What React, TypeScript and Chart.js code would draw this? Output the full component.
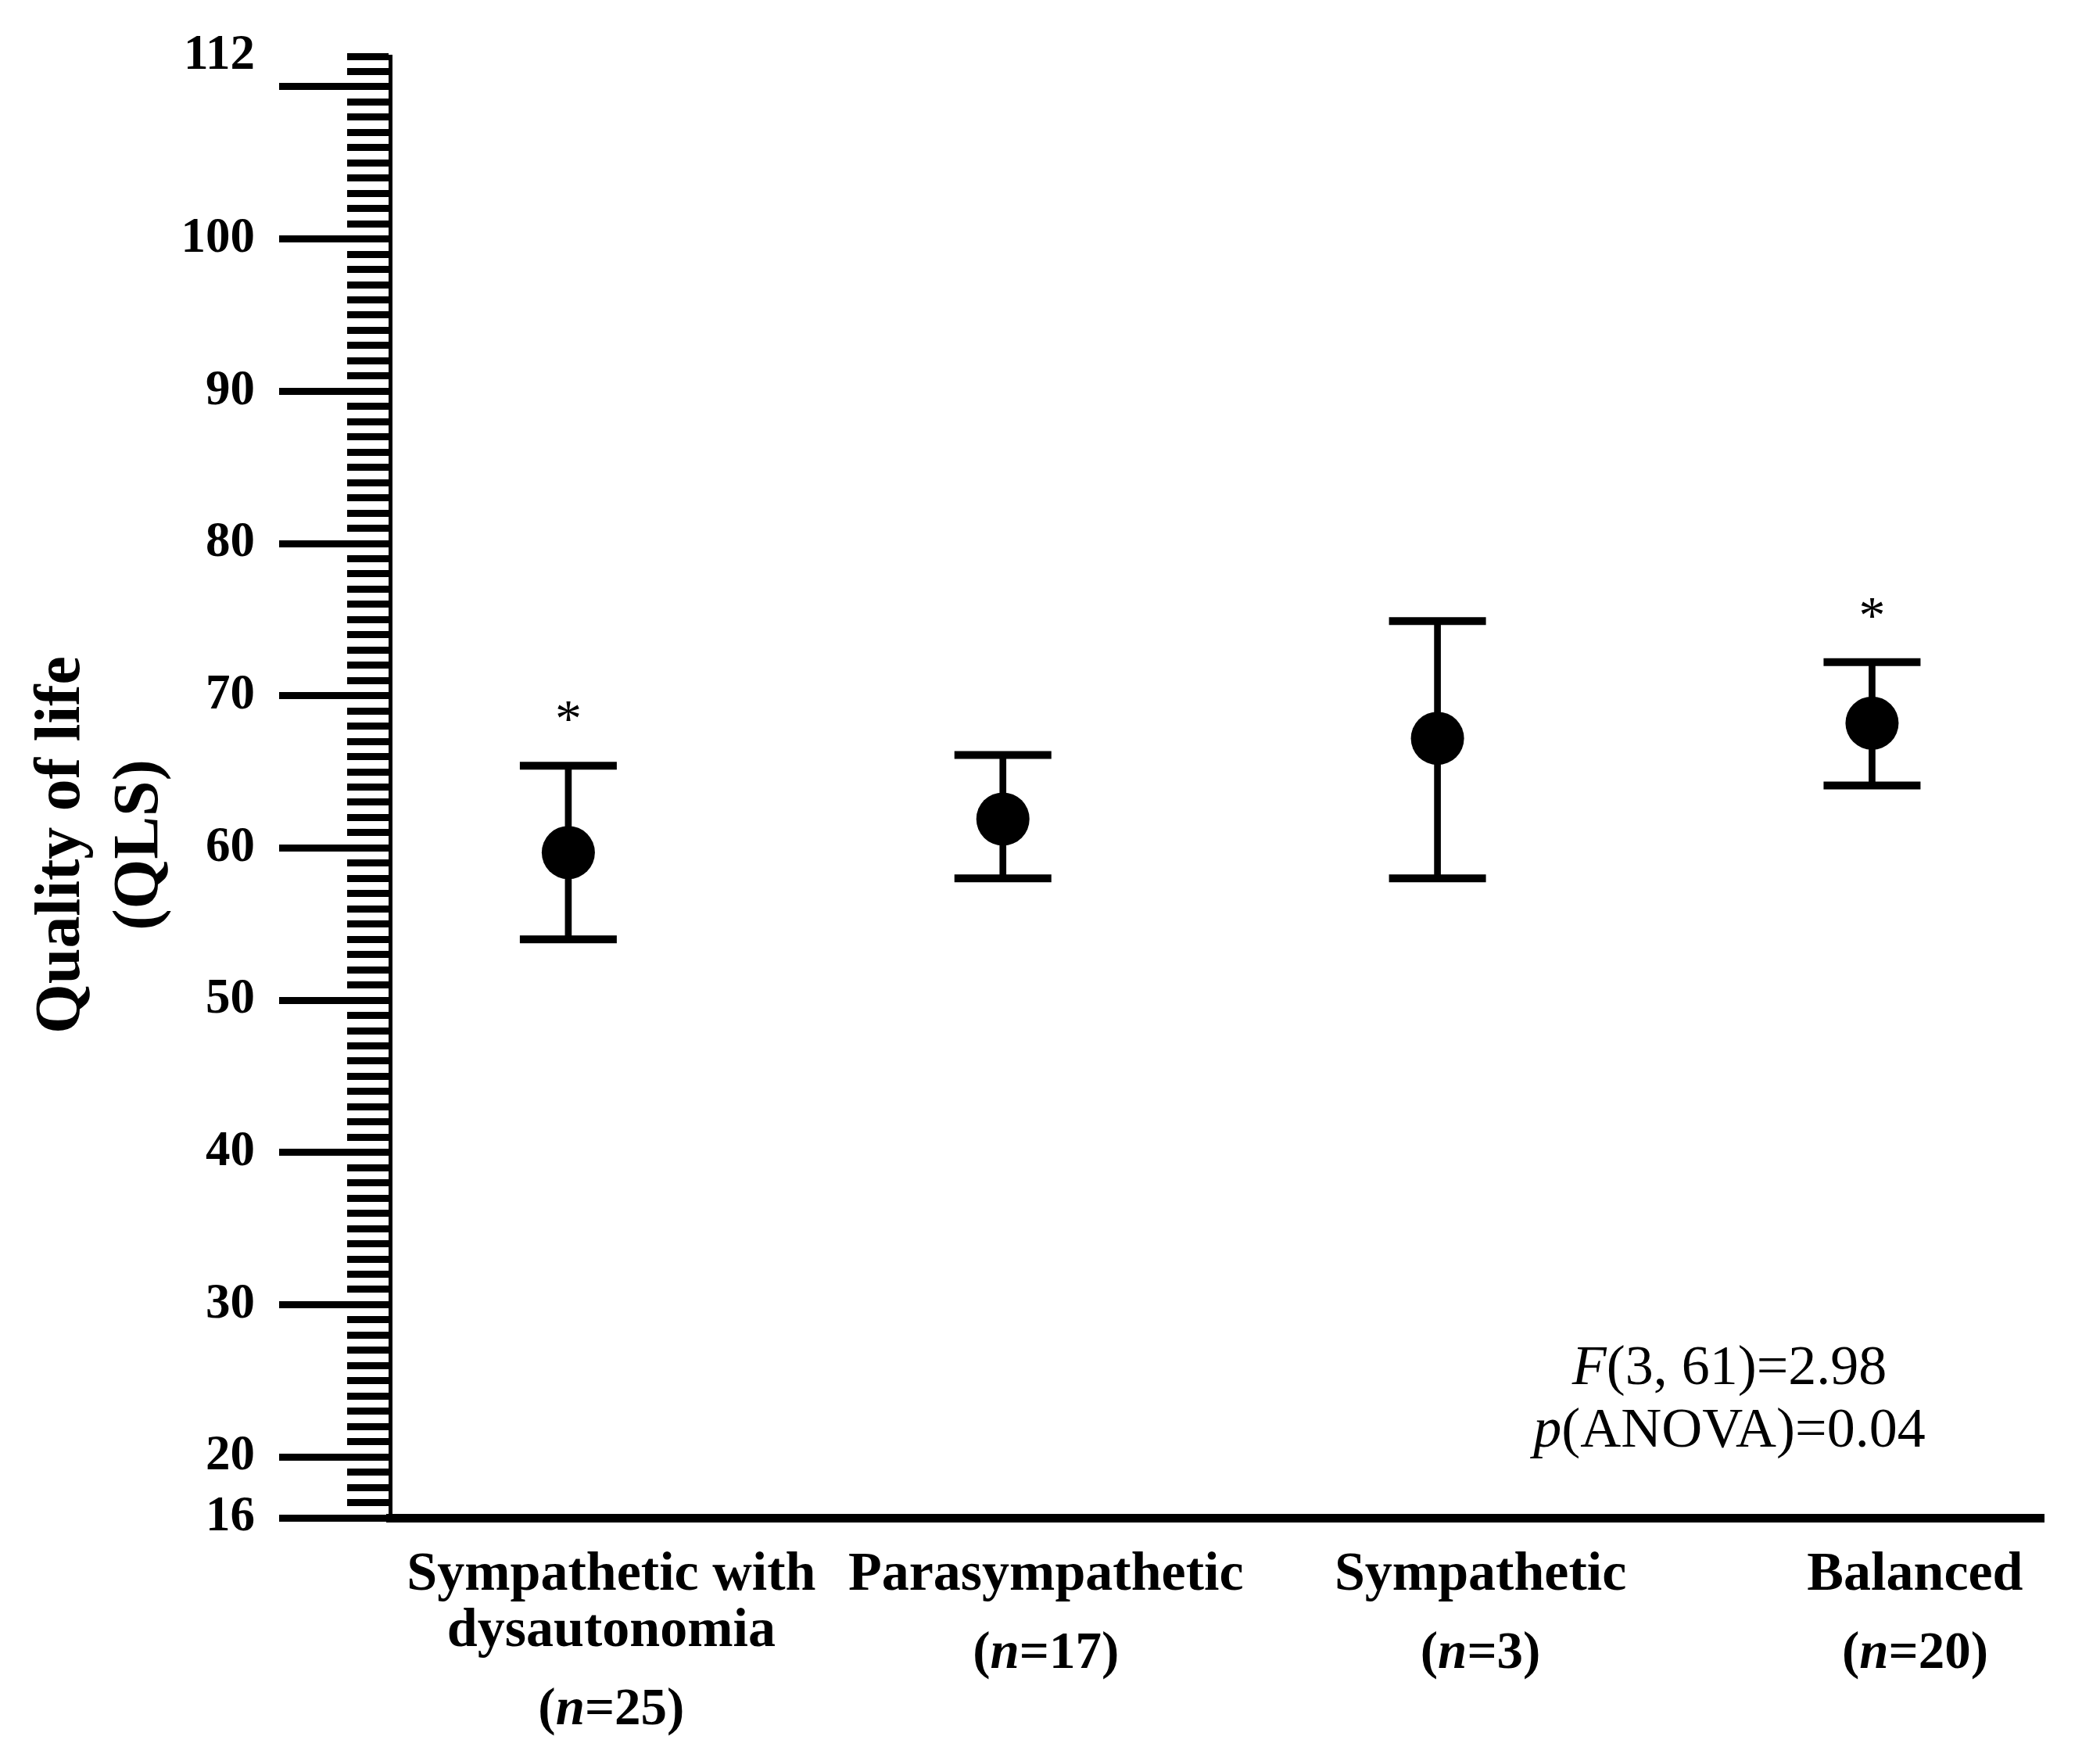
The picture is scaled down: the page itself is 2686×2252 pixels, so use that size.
import React, { useEffect, useRef } from 'react';
import { Chart, registerables } from 'chart.js';

Chart.register(...registerables);

// groups along the x axis (names may span two lines)
const groupNames: string[][] = [
  ['Sympathetic with', 'dysautonomia'],
  ['Parasympathetic'],
  ['Sympathetic'],
  ['Balanced'],
];
const groupSizes = [25, 17, 3, 20];

// quality of life: mean with lower / upper error bar ends
const means = [59.7, 61.9, 67.2, 68.2];
const upperBars = [65.4, 66.1, 74.9, 72.2];
const lowerBars = [54.0, 58.0, 58.0, 64.1];
const significant = [true, false, false, true];

// y axis
const yMin = 16;
const yMax = 112;
const yLabelValues = [16, 20, 30, 40, 50, 60, 70, 80, 90, 100, 112];
const yMajorLines = [16, 20, 30, 40, 50, 60, 70, 80, 90, 100, 110];
const yTitle = ['Quality of life', '(QLS)'];

// ANOVA result text (italic symbol + rest)
const fStat = ['F', '(3, 61)=2.98'];
const pStat = ['p', '(ANOVA)=0.04'];

const SERIF = "'Times New Roman', 'Liberation Serif', serif";
const LABEL_SHIFT = 55;
const X_PAD = 38;
const X_LINE = 72;

type Run = { text: string; font: string };

function drawRuns(ctx: CanvasRenderingContext2D, runs: Run[], cx: number, y: number) {
  let total = 0;
  runs.forEach((r) => {
    ctx.font = r.font;
    total += ctx.measureText(r.text).width;
  });
  let x = cx - total / 2;
  ctx.textAlign = 'left';
  runs.forEach((r) => {
    ctx.font = r.font;
    ctx.fillText(r.text, x, y);
    x += ctx.measureText(r.text).width;
  });
}

const figureText = {
  id: 'figureText',
  afterDraw(chart: any) {
    const { ctx, chartArea, scales } = chart;
    const xs = scales.x;
    const ys = scales.y;
    ctx.save();
    ctx.fillStyle = '#000';

    // y axis title, two rotated lines
    ctx.font = `bold 82px ${SERIF}`;
    ctx.textAlign = 'center';
    ctx.textBaseline = 'middle';
    const titleY = (chartArea.top + chartArea.bottom) / 2 + 74;
    yTitle.forEach((line, i) => {
      ctx.save();
      ctx.translate(80 + i * 100, titleY);
      ctx.rotate(-Math.PI / 2);
      ctx.fillText(line, 0, 0);
      ctx.restore();
    });

    // significance marks above the upper bars
    ctx.font = `68px ${SERIF}`;
    ctx.textBaseline = 'alphabetic';
    significant.forEach((s, i) => {
      if (!s) return;
      const px = xs.getPixelForValue(i + 1);
      const py = ys.getPixelForValue(upperBars[i] + 3.6);
      ctx.textAlign = 'center';
      ctx.fillText('*', px, py + 32);
    });

    // group sizes under the names
    ctx.textBaseline = 'middle';
    const bold = `bold 67px ${SERIF}`;
    const boldItalic = `italic bold 67px ${SERIF}`;
    groupSizes.forEach((n, i) => {
      const cx = xs.getPixelForValue(i + 1) + LABEL_SHIFT;
      const cy = xs.top + X_PAD + X_LINE / 2 + (groupNames[i].length - 1) * X_LINE + 101;
      drawRuns(ctx, [
        { text: '(', font: bold },
        { text: 'n', font: boldItalic },
        { text: `=${n})`, font: bold },
      ], cx, cy);
    });

    // ANOVA text
    ctx.textBaseline = 'alphabetic';
    const reg = `72px ${SERIF}`;
    const ital = `italic 72px ${SERIF}`;
    const sx = chartArea.right - 402;
    drawRuns(ctx, [{ text: fStat[0], font: ital }, { text: fStat[1], font: reg }], sx, chartArea.bottom - 171);
    drawRuns(ctx, [{ text: pStat[0], font: ital }, { text: pStat[1], font: reg }], sx, chartArea.bottom - 91);

    ctx.restore();
  },
};

export default function App() {
  const canvasRef = useRef<HTMLCanvasElement>(null);

  useEffect(() => {
    const canvas = canvasRef.current;
    if (!canvas) return;

    const xs = groupNames.map((_, i) => i + 1);

    const chart = new Chart(canvas, {
      type: 'scatter',
      data: {
        datasets: [
          {
            type: 'bar',
            label: 'range',
            data: xs.map((x, i) => ({ x, y: [lowerBars[i], upperBars[i]] })) as any,
            backgroundColor: '#000',
            borderWidth: 0,
            barThickness: 8,
            order: 3,
          } as any,
          {
            label: 'caps',
            data: [
              ...xs.map((x, i) => ({ x, y: lowerBars[i] })),
              ...xs.map((x, i) => ({ x, y: upperBars[i] })),
            ],
            pointStyle: 'line',
            pointRadius: 62,
            borderWidth: 10,
            borderColor: '#000',
            backgroundColor: '#000',
            order: 2,
          },
          {
            label: 'mean',
            data: xs.map((x, i) => ({ x, y: means[i] })),
            pointStyle: 'circle',
            pointRadius: 34,
            borderWidth: 0,
            backgroundColor: '#000',
            order: 1,
          },
        ],
      },
      options: {
        responsive: false,
        devicePixelRatio: 1,
        animation: false,
        events: [],
        layout: { padding: { left: 224, right: 50, top: 67, bottom: 10 } },
        plugins: {
          legend: { display: false },
          tooltip: { enabled: false },
        },
        scales: {
          x: {
            type: 'linear',
            position: 'bottom',
            offset: false,
            min: 0.59,
            max: 4.395,
            afterBuildTicks: (s: any) => {
              s.ticks = xs.map((v) => ({ value: v }));
            },
            afterFit: (s: any) => {
              s.height = 301;
            },
            grid: { display: false, drawTicks: false, offset: false },
            border: { display: true, color: '#000', width: 11 },
            ticks: {
              autoSkip: false,
              maxRotation: 0,
              minRotation: 0,
              padding: X_PAD,
              labelOffset: LABEL_SHIFT,
              color: '#000',
              font: { family: SERIF, size: 70, weight: 'bold', lineHeight: X_LINE / 70 },
              callback: (v: any) => groupNames[Math.round(Number(v)) - 1] ?? '',
            },
          },
          // minor ticks, one per unit
          y: {
            type: 'linear',
            position: 'left',
            weight: 0,
            min: yMin,
            max: yMax,
            afterBuildTicks: (s: any) => {
              const t = [];
              for (let v = yMin; v <= yMax; v++) t.push({ value: v });
              s.ticks = t;
            },
            afterFit: (s: any) => {
              s.width = 55;
            },
            grid: {
              drawOnChartArea: false,
              drawTicks: true,
              tickLength: 55,
              tickColor: '#000',
              tickWidth: 9,
            },
            border: { display: true, color: '#000', width: 5 },
            ticks: { display: false, autoSkip: false },
          },
          // labelled major ticks
          yMajor: {
            type: 'linear',
            axis: 'y',
            position: 'left',
            weight: 1,
            min: yMin,
            max: yMax,
            afterBuildTicks: (s: any) => {
              const vals = Array.from(new Set([...yMajorLines, ...yLabelValues])).sort((a, b) => a - b);
              s.ticks = vals.map((v) => ({ value: v }));
            },
            afterFit: (s: any) => {
              s.width = 220;
            },
            grid: {
              drawOnChartArea: false,
              drawTicks: true,
              tickLength: 87,
              tickColor: (c: any) => (yMajorLines.includes(c.tick?.value) ? '#000' : 'rgba(0,0,0,0)'),
              tickWidth: (c: any) => (yMajorLines.includes(c.tick?.value) ? 9 : 0),
            },
            border: { display: false },
            ticks: {
              autoSkip: false,
              padding: 31,
              color: '#000',
              font: { family: SERIF, size: 63, weight: 'bold' },
              callback: (v: any) => (yLabelValues.includes(Number(v)) ? String(v) : ''),
            },
          },
        },
      } as any,
      plugins: [figureText],
    });

    return () => chart.destroy();
  }, []);

  return (
    <div style={{ position: 'absolute', left: 0, top: 0, width: 2686, height: 2252, background: '#fff' }}>
      <canvas ref={canvasRef} width={2686} height={2252} style={{ display: 'block' }} />
    </div>
  );
}
